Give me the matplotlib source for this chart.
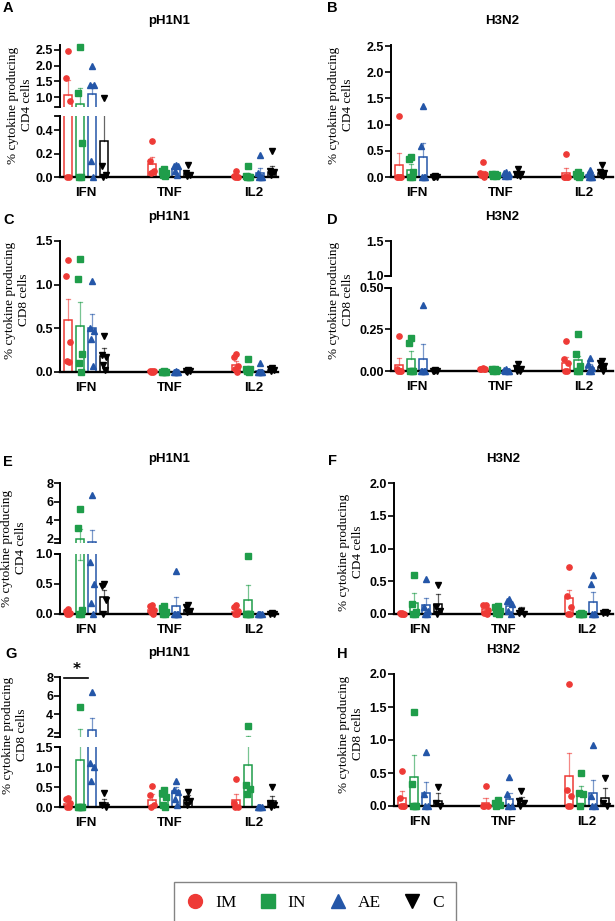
import numpy as np
import matplotlib
matplotlib.use('Agg')
import matplotlib.pyplot as plt
from matplotlib.lines import Line2D

# groups / cytokines
groups = ['IM', 'IN', 'AE', 'C']
cytokines = ['IFN', 'TNF', 'IL2']
colors = ['#EE3A36', '#1F9D4A', '#2456A8', '#000000']
markers = ['o', 's', '^', 'v']

# rows: IM, IN, AE, C ; cols: IFN, TNF, IL2
A_mean = [[1.08, 0.11, 0.01], [0.80, 0.04, 0.01], [1.10, 0.07, 0.035], [0.31, 0.03, 0.045]]
A_sem = [[0.45, 0.06, 0.01], [0.49, 0.02, 0.02], [0.33, 0.02, 0.04], [0.34, 0.01, 0.045]]
A_pts = [[[2.47, 1.60, 0.87, 0.0, 0.0], [0.31, 0.14, 0.05, 0.03, 0.04], [0.05, 0.01, 0.0, 0.0, 0.0]],
         [[2.60, 1.12, 0.29, 0.0, 0.0], [0.07, 0.05, 0.03, 0.02, 0.01], [0.09, 0.01, 0.0, 0.0, 0.0]],
         [[2.00, 1.40, 1.37, 0.14, 0.0], [0.10, 0.09, 0.09, 0.05, 0.02], [0.19, 0.03, 0.0, 0.0, 0.0]],
         [[0.96, 0.09, 0.02, 0.0], [0.10, 0.03, 0.02, 0.01], [0.22, 0.05, 0.04, 0.02]]]

B_mean = [[0.23, 0.08, 0.07], [0.13, 0.04, 0.03], [0.38, 0.04, 0.03], [0.01, 0.05, 0.077]]
B_sem = [[0.23, 0.04, 0.10], [0.11, 0.01, 0.02], [0.27, 0.02, 0.02], [0.0, 0.03, 0.05]]
B_pts = [[[1.16, 0, 0, 0, 0], [0.29, 0.08, 0.05, 0.03, 0.0], [0.44, 0, 0, 0, 0]],
         [[0.38, 0.35, 0.10, 0, 0], [0.06, 0.05, 0.04, 0.02, 0.01], [0.10, 0.06, 0.03, 0.01, 0]],
         [[1.36, 0.59, 0, 0, 0], [0.09, 0.07, 0.05, 0.02, 0.01], [0.14, 0.05, 0, 0, 0]],
         [[0.01, 0, 0, 0], [0.16, 0.06, 0.05, 0.03, 0.01], [0.22, 0.10, 0.08, 0.03, 0.01]]]

C_mean = [[0.59, 0.01, 0.08], [0.53, 0.005, 0.04], [0.50, 0.005, 0.015], [0.18, 0.01, 0.02]]
C_sem = [[0.25, 0.005, 0.045], [0.27, 0.003, 0.02], [0.16, 0.003, 0.02], [0.10, 0.005, 0.02]]
C_pts = [[[1.28, 1.10, 0.34, 0.13, 0.11], [0.015, 0.01, 0.01, 0, 0], [0.21, 0.17, 0.07, 0.03, 0]],
         [[1.29, 1.06, 0.21, 0.10, 0.0], [0.01, 0.005, 0.005, 0, 0], [0.15, 0.04, 0.03, 0.01, 0]],
         [[1.04, 0.50, 0.47, 0.38, 0.07], [0.01, 0.005, 0, 0, 0], [0.10, 0, 0, 0, 0]],
         [[0.41, 0.20, 0.17, 0.08, 0.02], [0.02, 0.01, 0.01, 0], [0.05, 0.03, 0.02, 0.01]]]

D_mean = [[0.035, 0.012, 0.05], [0.07, 0.008, 0.065], [0.074, 0.004, 0.02], [0.002, 0.012, 0.025]]
D_sem = [[0.045, 0.004, 0.035], [0.05, 0.003, 0.025], [0.086, 0.003, 0.02], [0.0, 0.01, 0.02]]
D_pts = [[[0.21, 0.01, 0, 0, 0], [0.02, 0.015, 0.01, 0.01, 0.01], [0.18, 0.07, 0.05, 0, 0]],
         [[0.20, 0.17, 0, 0, 0], [0.015, 0.01, 0.005, 0, 0], [0.22, 0.10, 0.03, 0, 0]],
         [[0.40, 0, 0, 0, 0], [0.01, 0.005, 0, 0, 0], [0.08, 0.04, 0.02, 0, 0]],
         [[0.005, 0, 0, 0], [0.04, 0.02, 0.01, 0, 0], [0.06, 0.05, 0.03, 0.02, 0]]]

E_mean = [[0.02, 0.07, 0.04], [2.0, 0.04, 0.24], [1.65, 0.14, 0.0], [0.29, 0.07, 0.005]]
E_sem = [[0.01, 0.03, 0.03], [1.1, 0.03, 0.25], [1.27, 0.14, 0.0], [0.11, 0.03, 0.005]]
E_sem_lo = [[0, 0, 0], [1.1, 0, 0], [0, 0, 0], [0, 0, 0]]
E_pts = [[[0.09, 0.05, 0.02, 0, 0], [0.15, 0.13, 0.07, 0.03, 0], [0.15, 0.12, 0.05, 0, 0]],
         [[5.2, 3.2, 0.06, 0, 0], [0.14, 0.10, 0.03, 0, 0], [0.97, 0, 0, 0, 0]],
         [[6.75, 0.87, 0.5, 0.18, 0], [0.72, 0, 0, 0, 0], [0, 0, 0, 0]],
         [[0.50, 0.47, 0.24, 0.0], [0.15, 0.12, 0.05, 0.03], [0.01, 0, 0]]]

F_mean = [[0.01, 0.08, 0.24], [0.17, 0.06, 0.01], [0.14, 0.12, 0.19], [0.16, 0.03, 0.02]]
F_sem = [[0.005, 0.04, 0.13], [0.15, 0.04, 0.0], [0.11, 0.05, 0.15], [0.14, 0.07, 0.01]]
F_pts = [[[0.02, 0.01, 0, 0, 0], [0.14, 0.13, 0.06, 0.02, 0], [0.71, 0.27, 0.10, 0, 0]],
         [[0.59, 0.15, 0.03, 0, 0], [0.12, 0.11, 0.05, 0.02, 0], [0.01, 0, 0, 0, 0]],
         [[0.53, 0.10, 0.05, 0, 0], [0.23, 0.20, 0.15, 0.05, 0], [0.59, 0.46, 0, 0, 0]],
         [[0.44, 0.10, 0.05, 0], [0.05, 0.02, 0], [0.03, 0.02, 0.01]]]

G_mean = [[0.08, 0.175, 0.18], [1.18, 0.25, 1.04], [2.3, 0.40, 0.01], [0.09, 0.18, 0.14]]
G_sem = [[0.05, 0.14, 0.14], [1.22, 0.08, 0.66], [1.3, 0.10, 0.0], [0.12, 0.12, 0.135]]
G_pts = [[[0.225, 0.20, 0.10, 0, 0], [0.53, 0.30, 0.05, 0], [0.70, 0.10, 0, 0]],
         [[4.75, 0, 0, 0, 0], [0.43, 0.36, 0.25, 0.05, 0], [2.8, 0.54, 0.46, 0.33]],
         [[6.4, 1.1, 1.0, 0.65], [0.65, 0.43, 0.38, 0.20, 0.05], [0.01, 0, 0, 0]],
         [[0.35, 0.05, 0], [0.37, 0.20, 0.15, 0.05], [0.50, 0.10, 0.05, 0]]]

H_mean = [[0.12, 0.05, 0.45], [0.44, 0.02, 0.17], [0.20, 0.11, 0.20], [0.08, 0.08, 0.12]]
H_sem = [[0.11, 0.07, 0.35], [0.34, 0.01, 0.13], [0.16, 0.09, 0.19], [0.11, 0.06, 0.15]]
H_pts = [[[0.53, 0.12, 0, 0, 0], [0.30, 0, 0, 0], [1.85, 0.24, 0.15, 0, 0]],
         [[1.43, 0.33, 0, 0, 0], [0.09, 0.05, 0.01, 0], [0.50, 0.20, 0.18, 0]],
         [[0.82, 0.18, 0, 0], [0.44, 0.18, 0, 0], [0.93, 0.15, 0, 0]],
         [[0.29, 0.05, 0], [0.22, 0.08, 0.05, 0], [0.42, 0.05, 0]]]

W, H = 615, 921
fig = plt.figure(figsize=(W / 100, H / 100), dpi=100)
sans = 'Liberation Sans'
serif = 'Liberation Serif'

bw = 0.09
step = 0.143
offs = (np.arange(4) - 1.5) * step
jit = np.array([0.0, -0.3, 0.3, -0.15, 0.15]) * bw


def draw(ax, mean, sem, pts, ylim, sem_lo=None):
    for g in range(4):
        for c in range(3):
            x = c + offs[g]
            m = mean[g][c]
            ax.bar(x, m, width=bw, facecolor='white', edgecolor=colors[g], lw=1.1, zorder=2)
            top = m + sem[g][c]
            ax.plot([x, x], [m, top], color=colors[g], alpha=0.6, lw=0.9, zorder=3)
            ax.plot([x - bw * 0.3, x + bw * 0.3], [top, top], color=colors[g], alpha=0.6, lw=0.9, zorder=3)
            if sem_lo is not None and sem_lo[g][c] > 0:
                lo = m - sem_lo[g][c]
                ax.plot([x, x], [lo, m], color=colors[g], alpha=0.6, lw=0.9, zorder=3)
                ax.plot([x - bw * 0.3, x + bw * 0.3], [lo, lo], color=colors[g], alpha=0.6, lw=0.9, zorder=3)
            p = np.array(pts[g][c], dtype=float)
            k = (p >= ylim[0]) & (p <= ylim[1])
            ax.plot(x + jit[:len(p)][k], p[k], marker=markers[g], ls='none', color=colors[g],
                    ms=3.8, zorder=4, clip_on=False)


def panel(mean, sem, pts, x0, x1, c0, sp, segs, title, letter, lab_x, cell, sem_lo=None):
    xlim = ((x0 - c0) / sp, (x1 - c0) / sp)
    axs = []
    for i, (yt, yb, ylim, ticks, fmt) in enumerate(segs):
        ax = fig.add_axes([x0 / W, 1 - yb / H, (x1 - x0) / W, (yb - yt) / H])
        draw(ax, mean, sem, pts, ylim, sem_lo)
        ax.set_xlim(*xlim)
        ax.set_ylim(*ylim)
        for s in ['top', 'right']:
            ax.spines[s].set_visible(False)
        ax.spines['left'].set_linewidth(1.4)
        ax.spines['bottom'].set_linewidth(1.7)
        ax.set_yticks(ticks)
        ax.set_yticklabels([fmt % t for t in ticks], fontfamily=sans, fontweight='bold', fontsize=9)
        ax.tick_params(axis='y', length=4, width=1.2, pad=1)
        last = i == len(segs) - 1
        if last:
            ax.set_xticks(range(3))
            ax.set_xticklabels(cytokines, fontfamily=sans, fontweight='bold', fontsize=9.5)
            ax.tick_params(axis='x', length=0, pad=7)
        else:
            ax.spines['bottom'].set_visible(False)
            ax.set_xticks([])
            ax.plot([-0.025, 0], [0, 0], transform=ax.transAxes, color='k', lw=1.3, clip_on=False)
        if i > 0:
            ax.plot([-0.025, 0], [1, 1], transform=ax.transAxes, color='k', lw=1.3, clip_on=False)
        axs.append(ax)
    ytop = segs[0][0]
    fig.text((x0 + x1) / 2 / W, 1 - (ytop - 24) / H, title, ha='center', va='center',
             fontfamily=sans, fontweight='bold', fontsize=9.5)
    fig.text(letter[0] / W, 1 - letter[1] / H, letter[2], ha='left', va='center',
             fontfamily=sans, fontweight='bold', fontsize=10.5)
    fig.text(lab_x[0] / W, 1 - lab_x[1] / H, '% cytokine producing\n' + cell + ' cells',
             rotation=90, ha='center', va='center', fontfamily=serif, fontsize=9.5, linespacing=1.15)
    return axs


panel(A_mean, A_sem, A_pts, 60, 278, 86, 84,
      [(45, 107, (0.69, 2.65), [1.0, 1.5, 2.0, 2.5], '%.1f'), (116, 177, (0, 0.52), [0, 0.2, 0.4], '%.1f')],
      'pH1N1', (3, 8, 'A'), (20, 105), 'CD4')
panel(B_mean, B_sem, B_pts, 391, 613, 417, 83.5,
      [(45, 177, (0, 2.52), [0, 0.5, 1.0, 1.5, 2.0, 2.5], '%.1f')],
      'H3N2', (327, 8, 'B'), (341, 105), 'CD4')
panel(C_mean, C_sem, C_pts, 60, 278, 86, 84,
      [(241, 372, (0, 1.5), [0, 0.5, 1.0, 1.5], '%.1f')],
      'pH1N1', (3, 220, 'C'), (17, 300), 'CD8')
panel(D_mean, D_sem, D_pts, 391, 613, 417, 83.5,
      [(241, 276, (1.0, 1.5), [1.0, 1.5], '%.1f'), (288, 371, (0, 0.5), [0, 0.25, 0.5], '%.2f')],
      'H3N2', (327, 220, 'D'), (341, 300), 'CD8')
panel(E_mean, E_sem, E_pts, 60, 278, 86, 84,
      [(483, 543, (1.57, 8), [2, 4, 6, 8], '%d'), (554, 614, (0, 1.0), [0, 0.5, 1.0], '%.1f')],
      'pH1N1', (3, 462, 'E'), (14, 548), 'CD4', sem_lo=E_sem_lo)
panel(F_mean, F_sem, F_pts, 394, 613, 420, 83.5,
      [(483, 614, (0, 2.0), [0, 0.5, 1.0, 1.5, 2.0], '%.1f')],
      'H3N2', (328, 461, 'F'), (351, 552), 'CD4')
axG = panel(G_mean, G_sem, G_pts, 60, 278, 86, 84,
            [(677, 737, (1.57, 8), [2, 4, 6, 8], '%d'), (747, 807, (0, 1.5), [0, 0.5, 1.0, 1.5], '%.1f')],
            'pH1N1', (5, 654, 'G'), (15, 735), 'CD8')
panel(H_mean, H_sem, H_pts, 394, 613, 420, 83.5,
      [(674, 806, (0, 2.0), [0, 0.5, 1.0, 1.5, 2.0], '%.1f')],
      'H3N2', (337, 654, 'H'), (351, 734), 'CD8')

# significance bar IM vs AE (IFN) in G
ax = axG[0]
xa, xb = offs[0] - bw / 2, offs[2] - bw / 2
ax.plot([xa, xb], [7.9, 7.9], color='k', lw=1.2, clip_on=False)
ax.text((xa + xb) / 2, 8.0, '*', ha='center', va='bottom', fontsize=11, fontweight='bold', clip_on=False)

handles = [Line2D([], [], marker=markers[i], color=colors[i], ls='none', ms=10) for i in range(4)]
leg = fig.legend(handles, groups, loc='center', bbox_to_anchor=(315 / W, 1 - 903 / H), ncol=4,
                 prop={'family': serif, 'size': 12.5}, frameon=True, fancybox=False,
                 handlelength=1.0, handletextpad=0.65, columnspacing=1.3, borderpad=0.75)
leg.get_frame().set_edgecolor('#666666')
leg.get_frame().set_linewidth(1.0)

fig.savefig('out.png', dpi=100)
